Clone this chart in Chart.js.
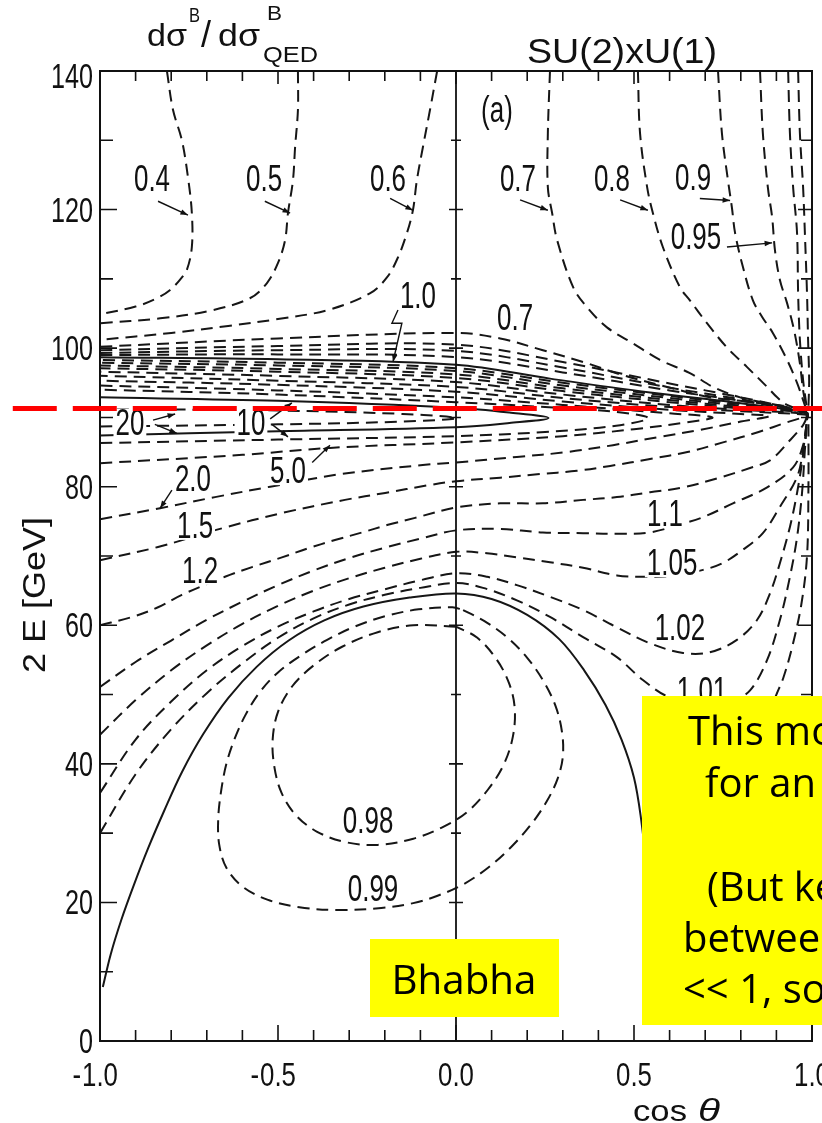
<!DOCTYPE html>
<html><head><meta charset="utf-8">
<script src="https://cdn.jsdelivr.net/npm/chart.js@4/dist/chart.umd.min.js"></script>
<style>html,body{margin:0;padding:0;background:#fff;}canvas{display:block}</style>
</head><body>
<canvas id="c" width="822" height="1123" style="width:822px;height:1123px"></canvas>
<script>
// ---------------- DATA (cos theta, 2E in GeV) ----------------
const xTickValues = [-1, -0.5, 0, 0.5, 1];
const xTickLabels = ['-1.0', '-0.5', '0.0', '0.5', '1.0'];
const yTickValues = [0, 20, 40, 60, 80, 100, 120, 140];
const yTickLabels = ['0', '20', '40', '60', '80', '100', '120', '140'];

// Z-pole marker line
const zLine = [[-1.245, 91.3], [1.03, 91.3]];

// contours above the pole, left part
const c04 = [[-0.812,140],[-0.795,134.4],[-0.77,130],[-0.753,124.7],[-0.742,119.5],[-0.742,114.6],[-0.756,111.3],[-0.775,109.9],[-0.803,108.4],[-0.84,107.2],[-0.9,106.0],[-1.0,104.9]];
const c05 = [[-0.444,140],[-0.444,134.4],[-0.452,129],[-0.458,124.2],[-0.472,119.5],[-0.48,115.6],[-0.5,112.3],[-0.531,109.4],[-0.579,107.2],[-0.691,105.4],[-0.831,104.3],[-1.0,103.6]];
const c06 = [[-0.053,140],[-0.073,134.4],[-0.093,129],[-0.11,124.2],[-0.121,119.9],[-0.138,116.6],[-0.163,113.1],[-0.194,110.2],[-0.242,107.9],[-0.36,105.5],[-0.5,104.2],[-0.64,103.2],[-0.8,102.2],[-1.0,101.2]];
// contours from the top, right part
const c07t = [[0.264,140],[0.258,131],[0.258,123.2],[0.27,119.5],[0.284,115.6],[0.329,108.8],[0.368,105.9],[0.424,103.0],[0.497,100.7],[0.573,98.3],[0.657,96.4],[0.722,94.4],[0.798,92.9],[0.882,92.0],[0.95,91.4],[0.985,90.9]];
const c08t = [[0.511,140],[0.517,131],[0.537,123.2],[0.553,119.5],[0.581,114.6],[0.629,108.8],[0.657,106.9],[0.705,103.6],[0.761,100.1],[0.817,97.3],[0.874,94.4],[0.902,92.9],[0.93,91.8],[0.985,90.9]];
const c09t = [[0.736,140],[0.747,131],[0.764,124.2],[0.775,120.3],[0.784,116.6],[0.806,111.7],[0.834,106.9],[0.86,104.5],[0.89,102.2],[0.93,98.3],[0.958,95.0],[0.975,92.5],[0.985,91.0]];
const c095t = [[0.854,140],[0.862,131],[0.876,123.2],[0.888,118.9],[0.896,114.1],[0.91,109.8],[0.93,106.5],[0.95,102.5],[0.966,97.8],[0.975,93.9],[0.985,91.2]];
const c098t = [[0.933,140],[0.938,131],[0.947,123.2],[0.958,116.6],[0.961,107.9],[0.966,101.2],[0.975,95.4],[0.985,91.5]];
const c099t = [[0.961,140],[0.966,131],[0.975,123.2],[0.98,116.6],[0.986,107.9],[0.989,101.2],[0.992,95.4],[0.99,91.5]];
// band just above the pole
const u07 = [[-1,100.2],[-0.5,101.4],[0,102.2],[0.124,101.4],[0.244,99.7],[0.357,98.0],[0.469,96.1],[0.593,94.4],[0.713,92.9],[0.798,92.4],[0.9,91.7],[0.985,90.9]];
const u08 = [[-1,99.7],[-0.5,100.3],[0,100.5],[0.3,98.0],[0.6,94.9],[0.8,92.9],[0.985,90.9]];
const u09 = [[-1,99.3],[-0.5,99.7],[0,99.6],[0.3,97.2],[0.6,94.3],[0.8,92.6],[0.985,90.8]];
const u095 = [[-1,99.0],[-0.5,99.1],[0,98.7],[0.3,96.5],[0.6,93.9],[0.8,92.4],[0.985,90.8]];
const s10u = [[-1,98.7],[-0.5,98.4],[0,97.6],[0.264,95.6],[0.545,93.6],[0.778,92.2],[0.985,90.8]];
// contours passing through the convergence point (lower branch, then upper branch)
const l101 = [[-1,30.0],[-0.9,38.5],[-0.8,45.0],[-0.7,50.2],[-0.6,54.5],[-0.5,58.2],[-0.4,61.0],[-0.3,63.0],[-0.2,64.4],[-0.1,65.4],[0,66.1],[0.076,65.4],[0.171,63.6],[0.264,61.2],[0.357,58.3],[0.452,55.4],[0.525,52.1],[0.6,49.6],[0.7,48.6],[0.78,49.3],[0.826,50.6],[0.874,55.0],[0.91,60.8],[0.938,67.0],[0.958,72.7],[0.972,79.1],[0.98,85.3],[0.986,89.6],[0.985,90.7],[0.8,91.9],[0.6,93.1],[0.3,95.0],[0,97.1],[-0.5,97.9],[-1,98.3]];
const l102 = [[-1,35.8],[-0.9,43.5],[-0.8,49.0],[-0.7,53.5],[-0.6,57.0],[-0.5,59.8],[-0.4,62.0],[-0.3,63.8],[-0.2,65.2],[-0.1,66.5],[0,67.5],[0.087,67.0],[0.171,65.8],[0.264,64.1],[0.357,62.2],[0.452,59.7],[0.545,57.4],[0.638,56.0],[0.713,56.1],[0.789,57.9],[0.846,60.8],[0.882,64.6],[0.91,69.0],[0.938,74.2],[0.958,79.1],[0.975,84.6],[0.985,89.5],[0.985,90.7],[0.8,91.7],[0.6,92.8],[0.3,94.6],[0,96.7],[-0.5,97.5],[-1,97.9]];
const l105 = [[-1,44.2],[-0.9,49.2],[-0.8,53.5],[-0.7,57.1],[-0.6,60.2],[-0.5,62.8],[-0.4,65.0],[-0.3,66.8],[-0.2,68.3],[-0.1,69.6],[0,70.6],[0.087,70.4],[0.171,69.8],[0.264,69.1],[0.357,68.3],[0.452,67.2],[0.525,67.0],[0.6,67.1],[0.694,68.0],[0.75,69.0],[0.806,70.9],[0.862,73.3],[0.91,77.1],[0.958,81.4],[0.975,85.3],[0.985,89.4],[0.985,90.6],[0.8,91.5],[0.6,92.5],[0.3,94.2],[0,96.2],[-0.5,97.0],[-1,97.5]];
const l11 = [[-1,51.1],[-0.9,54.7],[-0.8,57.8],[-0.7,60.8],[-0.6,63.4],[-0.5,65.8],[-0.4,67.9],[-0.3,69.7],[-0.2,71.2],[-0.1,72.5],[0,73.7],[0.124,73.9],[0.244,73.4],[0.357,73.3],[0.469,73.2],[0.545,73.4],[0.638,74.7],[0.694,75.6],[0.778,77.6],[0.874,79.9],[0.947,82.8],[0.975,86.0],[0.985,89.3],[0.985,90.6],[0.8,91.3],[0.6,92.2],[0.3,93.8],[0,95.7],[-0.5,96.6],[-1,97.1]];
const l12 = [[-1,60.0],[-0.91,61.2],[-0.837,62.6],[-0.77,64.4],[-0.649,67.0],[-0.573,68.4],[-0.489,69.8],[-0.416,71.1],[-0.34,72.3],[-0.264,73.4],[-0.191,74.5],[-0.115,75.5],[0,77.0],[0.124,77.6],[0.244,77.6],[0.357,78.1],[0.452,78.5],[0.545,79.2],[0.638,79.9],[0.733,81.2],[0.826,82.7],[0.882,83.8],[0.938,86.7],[0.975,88.9],[0.985,90.0],[0.985,90.5],[0.8,91.1],[0.6,91.8],[0.3,93.3],[0,95.1],[-0.5,96.0],[-1,96.6]];
const l15 = [[-1,69.4],[-0.837,71.3],[-0.657,74.0],[-0.489,76.2],[-0.312,78.1],[-0.199,79.1],[-0.079,80.2],[0,80.8],[0.124,81.3],[0.228,81.8],[0.34,82.3],[0.433,83.0],[0.545,84.0],[0.65,85.0],[0.75,86.4],[0.85,87.9],[0.93,89.3],[0.985,90.2],[0.985,90.4],[0.8,90.9],[0.6,91.5],[0.3,92.8],[0,94.4],[-0.5,95.3],[-1,96.0]];
// closed tongues around the pole
const t2 = [[-1,75.3],[-0.831,76.9],[-0.677,78.5],[-0.522,80.0],[-0.326,81.8],[-0.1,83.1],[0,83.5],[0.171,84.3],[0.312,85.0],[0.441,86.0],[0.573,87.2],[0.685,88.2],[0.8,89.4],[0.88,90.2],[0.8,90.5],[0.6,91.1],[0.3,92.3],[0,93.7],[-0.5,94.7],[-1,95.3]];
const t5 = [[-1,83.4],[-0.6,84.6],[-0.354,85.6],[0,86.4],[0.3,87.3],[0.5,88.3],[0.65,89.3],[0.72,90.0],[0.6,90.6],[0.4,91.4],[0.2,92.2],[0,92.9],[-0.5,93.9],[-1,94.6]];
const t10 = [[-1,86.3],[-0.5,86.8],[0,87.3],[0.25,87.9],[0.45,88.8],[0.54,89.9],[0.45,90.8],[0.25,91.5],[0,92.2],[-0.5,93.3],[-1,94.0]];
const t20 = [[-1,87.4],[-0.5,88.0],[0,88.6],[0.15,89.2],[0.26,89.9],[0.15,90.7],[0,91.4],[-0.5,92.4],[-1,92.9]];
const t50 = [[-1,88.7],[-0.5,89.0],[-0.15,89.4],[0.0,89.9],[-0.15,90.5],[-0.5,91.0],[-1,91.2]];
// ratio = 1.0 (solid) below the pole
const s10l = [[-0.992,7.8],[-0.97,12.5],[-0.94,17.5],[-0.905,22.5],[-0.865,27.8],[-0.82,33.2],[-0.77,38.8],[-0.71,44.3],[-0.64,49.5],[-0.56,54.0],[-0.47,57.8],[-0.37,60.7],[-0.26,62.7],[-0.13,64.0],[0,64.6],[0.1,63.8],[0.2,61.5],[0.29,58.0],[0.36,53.5],[0.42,48.5],[0.465,43.5],[0.5,38.0],[0.52,32.0],[0.535,25.0],[0.55,15.0]];
// closed loops 0.99 and 0.98
const o099 = [[0.02,62.2],[0.08,60.6],[0.145,58.2],[0.2,55.3],[0.245,52.0],[0.28,48.3],[0.298,44.5],[0.3,41.0],[0.285,37.8],[0.255,34.6],[0.21,31.2],[0.155,28.0],[0.09,25.0],[0.02,22.6],[-0.05,21.0],[-0.12,19.9],[-0.21,19.2],[-0.33,18.9],[-0.44,19.3],[-0.53,20.4],[-0.6,22.3],[-0.645,25.0],[-0.665,28.3],[-0.668,32.0],[-0.66,36.0],[-0.645,40.0],[-0.622,43.6],[-0.592,47.0],[-0.552,50.3],[-0.5,53.2],[-0.437,55.6],[-0.362,57.9],[-0.285,59.8],[-0.2,61.3],[-0.105,62.3],[-0.01,62.6],[0.02,62.2]];
const o098 = [[0,59.8],[-0.12,60.0],[-0.22,59.0],[-0.32,56.9],[-0.40,54.2],[-0.46,51.2],[-0.50,47.5],[-0.515,43.5],[-0.51,39.5],[-0.49,35.8],[-0.45,32.6],[-0.39,30.2],[-0.31,28.7],[-0.22,28.3],[-0.12,29.2],[-0.04,30.8],[0.03,33.0],[0.09,36.3],[0.135,40.0],[0.16,44.0],[0.165,48.0],[0.15,51.5],[0.115,55.0],[0.06,58.2],[0,59.8]];
// line near cos = 1 below the pole
const rr = [[0.99,89.0],[0.99,80],[0.986,70],[0.97,63],[0.945,57],[0.92,52.5],[0.9,50],[0.86,45]];

// contour level labels: [text, cos theta, 2E]
const levelLabels = [
  ['0.4',-0.854,124.5],['0.5',-0.539,124.5],['0.6',-0.191,124.5],
  ['0.7',0.174,124.5],['0.8',0.438,124.5],['0.9',0.666,124.7],['0.95',0.674,116.2],
  ['(a)',0.115,134.5],['1.0',-0.107,107.6],['0.7',0.166,104.5],
  ['20',-0.916,89.3],['10',-0.576,89.3],['5.0',-0.472,82.4],['2.0',-0.739,81.2],
  ['1.5',-0.733,74.5],['1.2',-0.719,68.0],
  ['1.1',0.587,76.2],['1.05',0.607,69.1],['1.02',0.629,59.7],['1.01',0.691,50.6],
  ['0.98',-0.247,31.9],['0.99',-0.233,22.1]
];
// label pointer arrows (polyline, arrow head at last point)
const labelArrows = [
  [[-0.837,121.2],[-0.753,119.2]],
  [[-0.537,121.2],[-0.466,119.5]],
  [[-0.185,121.6],[-0.121,119.9]],
  [[0.18,121.4],[0.258,119.9]],
  [[0.461,121.4],[0.539,119.9]],
  [[0.685,121.6],[0.77,121.3]],
  [[0.761,114.6],[0.888,115.2]],
  [[-0.163,105.5],[-0.18,103.6],[-0.152,103.6],[-0.177,98.0]],
  [[-0.851,89.6],[-0.789,90.5]],[[-0.846,89.0],[-0.784,87.7]],
  [[-0.522,89.8],[-0.461,92.1]],[[-0.517,89.0],[-0.472,87.2]],
  [[-0.404,83.5],[-0.354,86.0]],
  [[-0.798,79.5],[-0.831,76.9]]
];

const contours = [
  {d:c04},{d:c05},{d:c06},{d:c07t},{d:c08t},{d:c09t},{d:c095t},{d:c098t},{d:c099t},
  {d:u07},{d:u08},{d:u09},{d:u095},{d:s10u,solid:true},
  {d:l101},{d:l102},{d:l105},{d:l11},{d:l12},{d:l15},
  {d:t2},{d:t5},{d:t10},{d:t20,solid:true},{d:t50},
  {d:s10l,solid:true},{d:o099},{d:o098},{d:rr}
];

// ---------------- CHART ----------------
const toPt = p => ({x:p[0], y:p[1]});
const datasets = [{
  data: zLine.map(toPt), showLine:true, borderColor:'#ff0000', borderWidth:5,
  borderDash:[44,16], pointRadius:0, clip:false, tension:0
}];
contours.forEach(c => datasets.push({
  data: c.d.map(toPt), showLine:true, borderColor:'#161616',
  borderWidth: 2, borderDash: c.solid ? [] : [12,7],
  pointRadius:0, tension:0.35, fill:false
}));

const FONT = '"Liberation Sans"';
function drawText(ctx, s, x, y, o) {
  ctx.save();
  ctx.font = (o.italic ? 'italic ' : '') + o.size + 'px ' + (o.font || FONT);
  ctx.textAlign = 'left'; ctx.textBaseline = 'alphabetic';
  const w = ctx.measureText(s).width;
  const sx = o.width ? o.width / w : (o.sx || 1);
  const ww = w * sx;
  let left = x;
  if (o.align === 'center') left = x - ww / 2; else if (o.align === 'right') left = x - ww;
  if (o.bg) { ctx.fillStyle = o.bg; ctx.fillRect(left - 2, y - o.size * 0.74, ww + 4, o.size * 0.8); }
  ctx.translate(left, y); ctx.scale(sx, 1);
  ctx.fillStyle = o.color || '#111'; ctx.fillText(s, 0, 0);
  ctx.restore();
  return ww;
}

const decor = {
  id: 'decor',
  beforeDraw(chart) {
    const ctx = chart.ctx; ctx.save(); ctx.fillStyle = '#fff';
    ctx.fillRect(0, 0, chart.width, chart.height); ctx.restore();
  },
  afterDatasetDraw(chart, args) {
    if (args.index !== 1) return;
    const ctx = chart.ctx, sx = chart.scales.x, sy = chart.scales.y;
    const X = v => sx.getPixelForValue(v), Y = v => sy.getPixelForValue(v);
    const a = chart.chartArea;
    levelLabels.forEach(l => {
      drawText(ctx, l[0], X(l[1]), Y(l[2]) + 12.9, {size:36, sx:0.72, align:'center', bg:'#fff'});
    });
    ctx.save(); ctx.strokeStyle = '#111'; ctx.lineWidth = 1.4; ctx.fillStyle = '#111';
    labelArrows.forEach(arr => {
      ctx.beginPath();
      arr.forEach((p, i) => { const px = X(p[0]), py = Y(p[1]); if (i) ctx.lineTo(px, py); else ctx.moveTo(px, py); });
      ctx.stroke();
      const p1 = arr[arr.length - 2], p2 = arr[arr.length - 1];
      const x1 = X(p1[0]), y1 = Y(p1[1]), x2 = X(p2[0]), y2 = Y(p2[1]);
      const ang = Math.atan2(y2 - y1, x2 - x1), L = 8;
      ctx.beginPath(); ctx.moveTo(x2, y2);
      ctx.lineTo(x2 - L * Math.cos(ang - 0.35), y2 - L * Math.sin(ang - 0.35));
      ctx.lineTo(x2 - L * Math.cos(ang + 0.35), y2 - L * Math.sin(ang + 0.35));
      ctx.closePath(); ctx.fill();
    });
    ctx.restore();
    // frame
    ctx.save(); ctx.strokeStyle = '#111'; ctx.lineWidth = 2;
    ctx.strokeRect(a.left, a.top, a.right - a.left, a.bottom - a.top);
    ctx.lineWidth = 1.8;
    ctx.beginPath(); ctx.moveTo(X(0), a.top); ctx.lineTo(X(0), a.bottom); ctx.stroke();
    ctx.lineWidth = 1.6; ctx.beginPath();
    for (let i = -9; i <= 9; i++) {
      const v = i / 10, px = X(v), major = (i % 5 === 0);
      ctx.moveTo(px, a.bottom); ctx.lineTo(px, a.bottom - (major ? 16 : 11));
      ctx.moveTo(px, a.top); ctx.lineTo(px, a.top + (major ? 13 : 10));
    }
    for (let v = 10; v < 140; v += 10) {
      const py = Y(v), major = (v % 20 === 0);
      ctx.moveTo(a.left, py); ctx.lineTo(a.left + (major ? 17 : 13), py);
      ctx.moveTo(a.right, py); ctx.lineTo(a.right - (major ? 14 : 11), py);
      ctx.moveTo(X(0) - (major ? 7 : 5), py); ctx.lineTo(X(0) + (major ? 7 : 5), py);
    }
    ctx.stroke(); ctx.restore();
  },
  afterDraw(chart) {
    const ctx = chart.ctx, sx = chart.scales.x, sy = chart.scales.y;
    const X = v => sx.getPixelForValue(v), Y = v => sy.getPixelForValue(v);
    yTickValues.forEach((v, i) => {
      const off = v === 140 ? 17 : 12;
      drawText(ctx, yTickLabels[i], 93, Y(v) + off, {size:35, sx:0.72, align:'right'});
    });
    xTickValues.forEach((v, i) => {
      let s = xTickLabels[i], neg = s[0] === '-';
      const body = neg ? s.slice(1) : s;
      const w = drawText(ctx, body, X(v), 1086, {size:34, sx:0.76, align:'center'});
      if (neg) drawText(ctx, '-', X(v) - w / 2 - 1, 1086, {size:34, sx:0.76, align:'right'});
    });
    drawText(ctx, 'cos', 633, 1121, {size:30, width:54});
    drawText(ctx, 'θ', 698, 1121, {size:32, width:22, italic:true});
    ctx.save(); ctx.translate(45, 595); ctx.rotate(-Math.PI / 2);
    drawText(ctx, '2 E [GeV]', 0, 0, {size:32, width:156, align:'center'});
    ctx.restore();
    // panel titles
    drawText(ctx, 'dσ', 147, 46, {size:31, width:40});
    drawText(ctx, 'B', 189, 22, {size:21, width:11});
    drawText(ctx, '/', 201, 47, {size:36, sx:1});
    drawText(ctx, 'dσ', 218, 46, {size:31, width:42});
    drawText(ctx, 'B', 267, 20, {size:21, width:15});
    drawText(ctx, 'QED', 263, 62, {size:22, width:55});
    drawText(ctx, 'SU(2)xU(1)', 527, 63, {size:35, width:190});
    // yellow note boxes
    ctx.save(); ctx.fillStyle = '#ffff00';
    ctx.fillRect(370, 939, 189, 78);
    ctx.fillRect(642, 696, 200, 329);
    ctx.restore();
    const NF = '"Open Sans"';
    drawText(ctx, 'Bhabha', 464, 994, {size:40, width:145, align:'center', font:NF, color:'#000'});
    drawText(ctx, 'This mod', 688, 745, {size:40, font:NF, color:'#000'});
    drawText(ctx, 'for an A', 705, 797, {size:40, font:NF, color:'#000'});
    drawText(ctx, '(But kee', 707, 901, {size:40, font:NF, color:'#000'});
    drawText(ctx, 'between', 683, 952, {size:40, font:NF, color:'#000'});
    drawText(ctx, '<< 1, so', 683, 1003, {size:40, font:NF, color:'#000'});
  }
};

new Chart(document.getElementById('c'), {
  type: 'scatter',
  data: { datasets },
  options: {
    responsive: false, animation: false, devicePixelRatio: 1, events: [],
    layout: { padding: {top:71, right:10, left:0, bottom:0}, autoPadding: false },
    plugins: { legend:{display:false}, tooltip:{enabled:false}, title:{display:false} },
    scales: {
      x: { type:'linear', min:-1, max:1, grid:{display:false}, border:{display:false},
           ticks:{display:false}, afterFit: s => { s.height = 82; } },
      y: { type:'linear', min:0, max:140, grid:{display:false}, border:{display:false},
           ticks:{display:false}, afterFit: s => { s.width = 100; } }
    }
  },
  plugins: [decor]
});
</script>
</body></html>
